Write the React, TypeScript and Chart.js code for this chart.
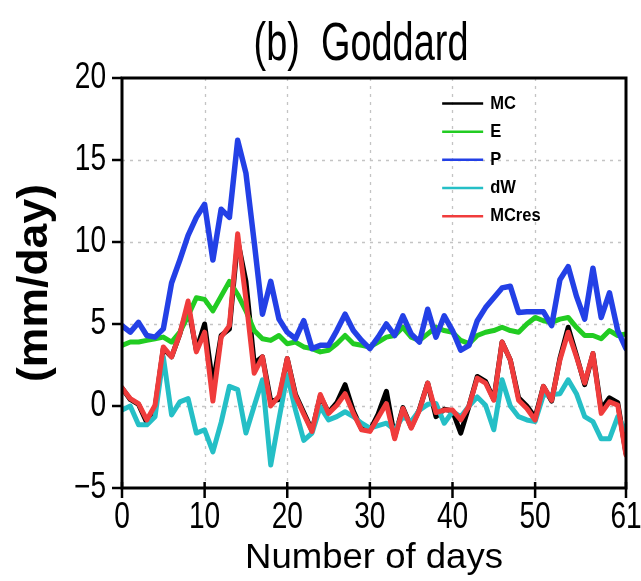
import React, { useEffect, useRef } from 'react';
import { Chart, registerables } from 'chart.js';

Chart.register(...registerables);

// ---- data -------------------------------------------------------------
const DAYS: number[] = Array.from({ length: 62 }, (_, i) => i);

const MC = [
  1.1, 0.4, 0.1, -1.0, -0.1, 3.5, 3.0, 4.4, 6.1, 3.4,
  5.0, 1.3, 4.3, 4.7, 10.1, 7.6, 2.6, 3.0, 0.3, 0.4,
  2.9, 0.7, -0.4, -1.5, 0.6, -0.4, 0.2, 1.3, -0.3, -1.4,
  -1.5, -0.5, 0.9, -1.9, -0.1, -1.3, -0.2, 1.4, -0.65, -0.2,
  -0.3, -1.65, 0.0, 1.8, 1.5, 0.4, 3.9, 2.8, 0.5, 0.0,
  -0.7, 1.2, 0.3, 2.9, 4.8, 3.1, 1.3, 3.2, -0.2, 0.5,
  0.2, -2.9,
];

const E = [
  3.7, 3.9, 3.9, 4.0, 4.1, 4.2, 3.9, 4.5, 5.5, 6.6,
  6.5, 5.8, 6.7, 7.6, 6.8, 5.8, 4.6, 4.1, 4.0, 4.3,
  3.8, 3.9, 3.6, 3.5, 3.3, 3.4, 3.8, 4.3, 3.8, 3.7,
  3.6, 3.9, 4.2, 4.3, 4.8, 4.2, 4.0, 4.4, 4.8, 4.6,
  4.5, 4.0, 3.8, 4.3, 4.5, 4.6, 4.8, 4.6, 4.5, 5.0,
  5.4, 5.2, 5.1, 5.3, 5.4, 4.8, 4.3, 4.3, 4.1, 4.6,
  4.3, 4.4,
];

const P = [
  4.9, 4.5, 5.1, 4.3, 4.2, 4.7, 7.5, 8.9, 10.4, 11.5,
  12.3, 8.9, 12.0, 11.5, 16.2, 14.2, 10.0, 5.6, 7.6, 5.3,
  4.5, 4.1, 5.2, 3.5, 3.7, 3.7, 4.6, 5.6, 4.6, 4.0,
  3.5, 4.2, 5.0, 4.3, 5.5, 4.4, 3.9, 5.9, 4.2, 5.5,
  4.6, 3.4, 3.7, 5.2, 6.0, 6.6, 7.2, 7.3, 5.7, 5.75,
  5.75, 5.75, 4.9, 7.7, 8.5, 6.7, 5.3, 8.4, 5.4, 6.9,
  4.6, 3.5,
];

const DW = [
  -0.25, 0.0, -1.15, -1.15, -0.65, 3.0, -0.55, 0.25, 0.45, -1.65,
  -1.45, -2.8, -1.0, 1.2, 1.0, -1.65, 0.0, 1.6, -3.6, -0.8,
  1.9, -0.25, -2.1, -1.65, -0.05, -0.85, -0.65, -0.35, -0.65, -1.05,
  -1.35, -1.2, -1.05, -1.45, -0.65, -0.95, -0.25, 0.1, 0.15, -1.05,
  -0.35, -0.65, 0.0, 0.55, 0.05, -1.45, 1.6, 0.0, -0.65, -0.85,
  -0.95, 0.65, 0.7, 0.75, 1.6, 0.75, -0.65, -0.95, -2.0, -2.0,
  -0.65, -1.5,
];

const MCRES = [
  1.1, 0.45, 0.15, -0.85, 0.05, 3.6, 3.0, 4.4, 6.4, 3.3,
  4.5, 0.3, 4.2, 4.9, 10.5, 6.5, 2.0, 3.0, 0.0, 0.6,
  2.9, 0.6, -0.5, -1.55, 0.7, -0.45, 0.05, 0.75, -0.45, -1.45,
  -1.55, -0.7, 0.15, -2.0, -0.15, -1.35, -0.25, 1.4, -0.4, -0.25,
  -0.25, -0.85, 0.0, 1.7, 1.4, 0.35, 3.9, 2.8, 0.35, -0.15,
  -0.85, 1.2, 0.35, 2.8, 4.5, 3.0, 1.4, 3.2, -0.45, 0.25,
  0.05, -3.0,
];

const SERIES_NAMES = ['MC', 'E', 'P', 'dW', 'MCres'];
const X_TICKS = [0, 10, 20, 30, 40, 50, 61];
const Y_TICKS = [-5, 0, 5, 10, 15, 20];
const TITLE = '(b)  Goddard';
const X_TITLE = 'Number of days';
const Y_TITLE = '(mm/day)';

// ---- styling ----------------------------------------------------------
const COLORS = ['#000000', '#22cc22', '#2340e6', '#25bfc6', '#f03c3c'];
const WIDTHS = [5, 5, 5.5, 5, 5];
const ORDERS = [4, 3, 2, 1, 0];
const FONT = "'Liberation Sans', Arial, Helvetica, sans-serif";

function drawText(
  ctx: CanvasRenderingContext2D,
  text: string,
  x: number,
  y: number,
  font: string,
  opts: { targetW?: number; scaleX?: number; align?: CanvasTextAlign; baseline?: CanvasTextBaseline; rotate?: number }
) {
  ctx.save();
  ctx.font = font;
  const w = ctx.measureText(text).width;
  const sx = opts.targetW ? opts.targetW / w : opts.scaleX ?? 1;
  ctx.translate(x, y);
  if (opts.rotate) ctx.rotate(opts.rotate);
  ctx.scale(sx, 1);
  ctx.textAlign = opts.align ?? 'center';
  ctx.textBaseline = opts.baseline ?? 'alphabetic';
  ctx.fillStyle = '#000';
  ctx.fillText(text, 0, 0);
  ctx.restore();
}

const gradsPlugin = {
  id: 'gradsFrame',
  beforeDatasetsDraw(chart: any) {
    const { ctx, chartArea: a, scales } = chart;
    const xs = scales.x;
    const ys = scales.y;
    ctx.save();
    ctx.strokeStyle = '#c4c4c4';
    ctx.lineWidth = 1.3;
    ctx.setLineDash([3, 5]);
    X_TICKS.forEach((v) => {
      if (v <= xs.min || v >= xs.max) return;
      const px = Math.round(xs.getPixelForValue(v)) + 0.5;
      ctx.beginPath();
      ctx.moveTo(px, a.top);
      ctx.lineTo(px, a.bottom);
      ctx.stroke();
    });
    Y_TICKS.forEach((v) => {
      if (v <= ys.min || v >= ys.max) return;
      const py = Math.round(ys.getPixelForValue(v)) + 0.5;
      ctx.beginPath();
      ctx.moveTo(a.left, py);
      ctx.lineTo(a.right, py);
      ctx.stroke();
    });
    ctx.restore();
  },
  afterDatasetsDraw(chart: any) {
    const { ctx, chartArea: a, scales } = chart;
    const xs = scales.x;
    const ys = scales.y;
    ctx.save();
    // frame
    ctx.strokeStyle = '#000';
    ctx.lineWidth = 3;
    ctx.setLineDash([]);
    ctx.strokeRect(a.left, a.top, a.right - a.left, a.bottom - a.top);
    // major ticks
    ctx.lineWidth = 2.5;
    Y_TICKS.forEach((v) => {
      const py = ys.getPixelForValue(v);
      ctx.beginPath();
      ctx.moveTo(a.left - 10, py);
      ctx.lineTo(a.left, py);
      ctx.stroke();
    });
    X_TICKS.forEach((v) => {
      const px = xs.getPixelForValue(v);
      ctx.beginPath();
      ctx.moveTo(px, a.bottom - 6);
      ctx.lineTo(px, a.bottom + 10);
      ctx.stroke();
    });
    // tick labels
    const tickFont = `36px ${FONT}`;
    Y_TICKS.forEach((v) => {
      const py = ys.getPixelForValue(v);
      const label = v < 0 ? '\u2212' + Math.abs(v) : String(v);
      drawText(ctx, label, a.left - 16, py, tickFont, { scaleX: 0.78, align: 'right', baseline: 'middle' });
    });
    X_TICKS.forEach((v) => {
      const px = xs.getPixelForValue(v);
      drawText(ctx, String(v), px, a.bottom + 30, tickFont, { scaleX: 0.78, align: 'center', baseline: 'middle' });
    });
    // titles
    const cx = (a.left + a.right) / 2;
    const cy = (a.top + a.bottom) / 2;
    drawText(ctx, TITLE, 361, 60, `54px ${FONT}`, { targetW: 215, align: 'center', baseline: 'alphabetic' });
    drawText(ctx, X_TITLE, cx, 568, `35px ${FONT}`, { targetW: 258, align: 'center', baseline: 'alphabetic' });
    drawText(ctx, Y_TITLE, 47, cy, `bold 42px ${FONT}`, { targetW: 198, align: 'center', baseline: 'alphabetic', rotate: -Math.PI / 2 });
    // legend
    const ds = chart.data.datasets;
    const legX0 = xs.getPixelForValue(38.75);
    const legX1 = legX0 + 41;
    ds.forEach((d: any, i: number) => {
      const ly = ys.getPixelForValue(18.45 - i * 1.72);
      ctx.strokeStyle = d.borderColor;
      ctx.lineWidth = 2.5;
      ctx.beginPath();
      ctx.moveTo(legX0, ly);
      ctx.lineTo(legX1, ly);
      ctx.stroke();
      drawText(ctx, d.label, legX1 + 7, ly, `bold 19px ${FONT}`, { scaleX: 0.87, align: 'left', baseline: 'middle' });
    });
    ctx.restore();
  },
};

export default function App() {
  const canvasRef = useRef<HTMLCanvasElement | null>(null);

  useEffect(() => {
    document.body.style.margin = '0';
    const canvas = canvasRef.current;
    if (!canvas) return;
    const seriesValues = [MC, E, P, DW, MCRES];
    const chart = new Chart(canvas, {
      type: 'line',
      data: {
        datasets: seriesValues.map((vals, i) => ({
          label: SERIES_NAMES[i],
          data: DAYS.map((d, j) => ({ x: d, y: vals[j] })),
          borderColor: COLORS[i],
          backgroundColor: COLORS[i],
          borderWidth: WIDTHS[i],
          pointRadius: 0,
          tension: 0,
          fill: false,
          order: ORDERS[i],
          borderJoinStyle: 'round',
          borderCapStyle: 'round',
        })),
      },
      options: {
        animation: false,
        responsive: false,
        maintainAspectRatio: false,
        devicePixelRatio: 1,
        layout: { padding: { left: 122, right: 15, top: 78, bottom: 93 } },
        plugins: {
          legend: { display: false },
          tooltip: { enabled: false },
          title: { display: false },
        },
        scales: {
          x: { type: 'linear', min: 0, max: 61, display: false },
          y: { type: 'linear', min: -5, max: 20, display: false },
        },
      },
      plugins: [gradsPlugin],
    } as any);
    return () => chart.destroy();
  }, []);

  return (
    <div style={{ width: 641, height: 581, background: '#fff' }}>
      <canvas ref={canvasRef} width={641} height={581} style={{ display: 'block' }} />
    </div>
  );
}
